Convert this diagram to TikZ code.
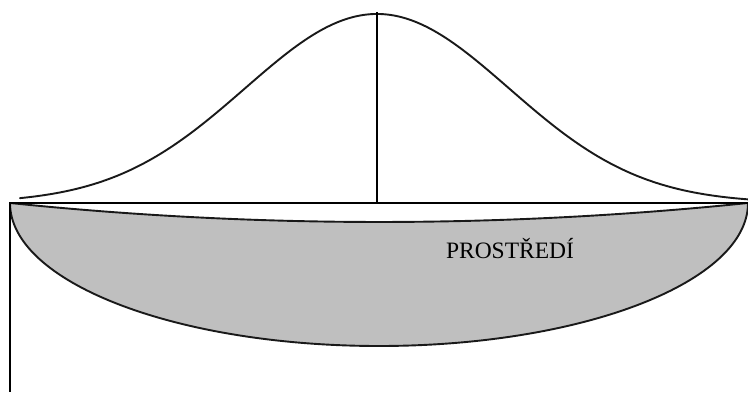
\documentclass[tikz,border=0pt]{standalone}
\usepackage{fontspec}
\setmainfont{Liberation Serif}
\begin{document}
\begin{tikzpicture}[x=1pt,y=1pt,
  curve/.style={line width=1.9pt,black!90},
  thickline/.style={line width=2.6pt,black},
  label/.style={font=\fontsize{23.5}{26}\selectfont,inner sep=0pt}]
\useasboundingbox (0,0) rectangle (748,392);
% grey environment shape
\fill[fill=black!25] (10,189) .. controls (256,163.7) and (502,163.7) .. (748,189)
  arc[start angle=0,end angle=-180,x radius=369,y radius=143] -- cycle;
\draw[curve] (10,189) .. controls (256,163.7) and (502,163.7) .. (748,189);
\draw[curve] (748,189) arc[start angle=0,end angle=-180,x radius=369,y radius=143];
% frame lines
\draw[thickline] (10,189) -- (748,189);
\draw[line width=2.4pt] (10,190) -- (10,0);
% bell curve
\draw[curve,line cap=round] plot[domain=20:748,samples=300,smooth] (\x,{189+189*exp(-0.5*((\x-377)/132)^2)});
\draw[line width=1.1pt] (377,380) -- (377,189);
\node[label,anchor=base] (env) at (510,134) {PROSTŘEDÍ};
\end{tikzpicture}
\end{document}
